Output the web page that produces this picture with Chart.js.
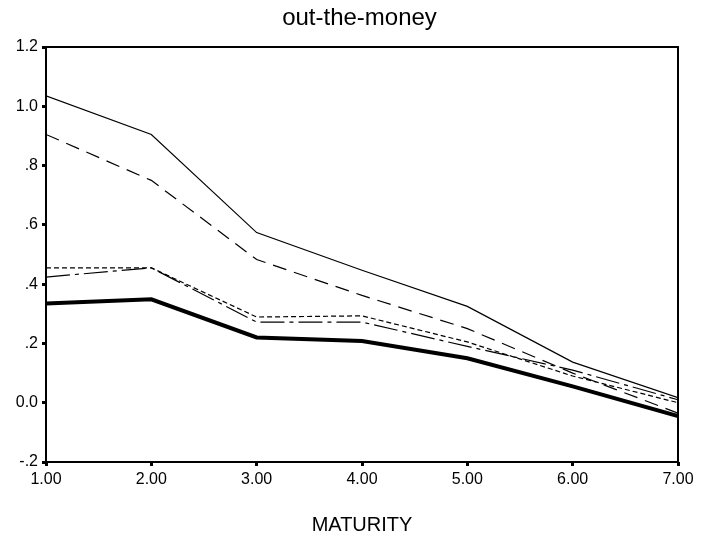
<!DOCTYPE html>
<html>
<head>
<meta charset="utf-8">
<script src="https://cdn.jsdelivr.net/npm/chart.js@4/dist/chart.umd.min.js"></script>
<style>
  html, body { margin: 0; padding: 0; background: #fff; }
  #wrap { width: 711px; height: 544px; }
</style>
</head>
<body>
<div id="wrap"><canvas id="c" width="711" height="544"></canvas></div>
<script>
const chartTitle = 'out-the-money';
const xAxisTitle = 'MATURITY';
const maturities = [1, 2, 3, 4, 5, 6, 7];
const xTickLabels = ['1.00', '2.00', '3.00', '4.00', '5.00', '6.00', '7.00'];
const yTickLabels = ['-.2', '0.0', '.2', '.4', '.6', '.8', '1.0', '1.2'];

const seriesSolid     = [1.035, 0.905, 0.574, 0.447, 0.325, 0.137, 0.017];
const seriesLongDash  = [0.905, 0.750, 0.483, 0.362, 0.250, 0.100, -0.035];
const seriesShortDash = [0.455, 0.455, 0.289, 0.293, 0.205, 0.090, 0.000];
const seriesDashDot   = [0.424, 0.455, 0.272, 0.272, 0.190, 0.110, 0.010];
const seriesThick     = [0.335, 0.349, 0.220, 0.208, 0.150, 0.055, -0.045];

function pts(values) {
  return maturities.map((m, i) => ({ x: m, y: values[i] }));
}

const frame = {
  id: 'frame',
  afterDraw(chart) {
    const a = chart.chartArea;
    const ctx = chart.ctx;
    ctx.save();
    ctx.strokeStyle = '#000';
    ctx.lineWidth = 2;
    ctx.strokeRect(a.left, a.top, a.right - a.left, a.bottom - a.top);
    ctx.restore();
  }
};

const pageTitle = {
  id: 'pageTitle',
  afterDraw(chart) {
    const ctx = chart.ctx;
    ctx.save();
    ctx.fillStyle = '#000';
    ctx.font = '24px "Liberation Sans", Arial, sans-serif';
    ctx.textAlign = 'center';
    ctx.textBaseline = 'alphabetic';
    ctx.fillText(chartTitle, chart.width / 2 + 4, 25);
    ctx.restore();
  }
};

const base = { fill: false, pointRadius: 0, borderColor: '#000', tension: 0, borderJoinStyle: 'miter' };

new Chart(document.getElementById('c'), {
  type: 'line',
  data: {
    datasets: [
      Object.assign({}, base, { label: 's1', data: pts(seriesSolid), borderWidth: 1.2 }),
      Object.assign({}, base, { label: 's2', data: pts(seriesLongDash), borderWidth: 1.2, borderDash: [14, 8] }),
      Object.assign({}, base, { label: 's3', data: pts(seriesShortDash), borderWidth: 1.2, borderDash: [5, 3] }),
      Object.assign({}, base, { label: 's4', data: pts(seriesDashDot), borderWidth: 1.2, borderDash: [24, 5, 4, 5] }),
      Object.assign({}, base, { label: 's5', data: pts(seriesThick), borderWidth: 4 })
    ]
  },
  options: {
    responsive: false,
    animation: false,
    layout: { padding: { left: 0, right: 33, top: 47, bottom: 0 } },
    plugins: {
      legend: { display: false },
      tooltip: { enabled: false },
      title: { display: false }
    },
    scales: {
      x: {
        type: 'linear',
        min: 1, max: 7,
        border: { display: false },
        grid: { drawOnChartArea: false, drawTicks: true, tickLength: 4, tickWidth: 3, tickColor: '#000' },
        ticks: {
          stepSize: 1,
          color: '#000',
          padding: 4,
          maxRotation: 0,
          font: { family: 'Liberation Sans, Arial, sans-serif', size: 16 },
          callback: (v, i) => xTickLabels[i]
        },
        title: {
          display: true,
          text: xAxisTitle,
          color: '#000',
          font: { family: 'Liberation Sans, Arial, sans-serif', size: 20 },
          padding: { top: 0, bottom: 7 }
        },
        afterFit(s) { s.height = 82; }
      },
      y: {
        min: -0.2, max: 1.2,
        border: { display: false },
        grid: { drawOnChartArea: false, drawTicks: true, tickLength: 4, tickWidth: 3, tickColor: '#000' },
        ticks: {
          stepSize: 0.2,
          color: '#000',
          padding: 4,
          font: { family: 'Liberation Sans, Arial, sans-serif', size: 16 },
          callback: (v, i) => yTickLabels[i]
        },
        afterFit(s) { s.width = 46; }
      }
    }
  },
  plugins: [frame, pageTitle]
});
</script>
</body>
</html>
